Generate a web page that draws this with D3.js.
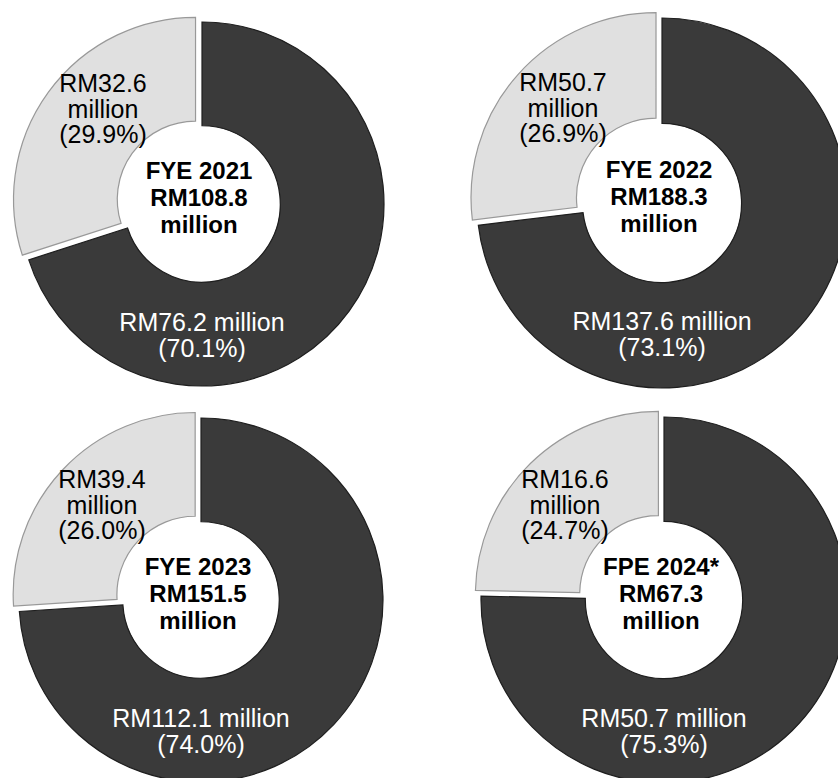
<!DOCTYPE html>
<html>
<head>
<meta charset="utf-8">
<script src="https://cdn.jsdelivr.net/npm/d3@7"></script>
<style>
  body { margin: 0; background: #fff; }
  svg { display: block; font-family: "Liberation Sans", Arial, sans-serif; }
</style>
</head>
<body>
<div class="chart"></div>
<script>
const w = 838;
const h = 778;

// data
const periods = ["FYE 2021", "FYE 2022", "FYE 2023", "FPE 2024*"];
const totals = [108.8, 188.3, 151.5, 67.3];
const darkValues = [76.2, 137.6, 112.1, 50.7];
const darkPct = [70.1, 73.1, 74.0, 75.3];
const lightValues = [32.6, 50.7, 39.4, 16.6];
const lightPct = [29.9, 26.9, 26.0, 24.7];

// where each donut sits
const cells = [
  { cx: 202, cy: 204, r: 182 },
  { cx: 662, cy: 203, r: 185 },
  { cx: 201, cy: 600, r: 182 },
  { cx: 664, cy: 600, r: 183 }
];

const darkFill = "#3a3a3a";
const lightFill = "#e0e0e0";
const explode = 8;

const svg = d3.select(".chart")
  .append("svg")
  .attr("width", w)
  .attr("height", h);

const pie = d3.pie().sort(null).value(d => d.value);

periods.forEach((p, i) => {
  const c = cells[i];
  const arc = d3.arc().innerRadius(c.r * 0.43).outerRadius(c.r);

  const g = svg.append("g")
    .attr("transform", `translate(${c.cx},${c.cy})`);

  const slices = pie([
    { key: "dark", value: darkValues[i] },
    { key: "light", value: lightValues[i] }
  ]);

  g.selectAll("path")
    .data(slices)
    .enter().append("path")
    .attr("d", arc)
    .attr("transform", d => {
      if (d.data.key !== "light") return null;
      const mid = (d.startAngle + d.endAngle) / 2;
      return `translate(${Math.sin(mid) * explode},${-Math.cos(mid) * explode})`;
    })
    .attr("fill", d => d.data.key === "dark" ? darkFill : lightFill)
    .attr("stroke", d => d.data.key === "dark" ? "#1e1e1e" : "#999")
    .attr("stroke-width", 1.2);

  // light slice label
  const lt = g.append("text")
    .attr("text-anchor", "middle")
    .attr("font-size", "25px")
    .attr("fill", "#000");
  [`RM${lightValues[i].toFixed(1)}`, "million", `(${lightPct[i].toFixed(1)}%)`].forEach((t, k) => {
    lt.append("tspan").attr("x", -99).attr("y", -112 + k * 25.5).text(t);
  });

  // dark slice label
  const dt = g.append("text")
    .attr("text-anchor", "middle")
    .attr("font-size", "25px")
    .attr("fill", "#fff");
  [`RM${darkValues[i].toFixed(1)} million`, `(${darkPct[i].toFixed(1)}%)`].forEach((t, k) => {
    dt.append("tspan").attr("x", 0).attr("y", 127 + k * 26).text(t);
  });

  // centre label
  const ct = g.append("text")
    .attr("text-anchor", "middle")
    .attr("font-size", "24px")
    .attr("font-weight", "bold")
    .attr("fill", "#000");
  [p, `RM${totals[i].toFixed(1)}`, "million"].forEach((t, k) => {
    ct.append("tspan").attr("x", -3).attr("y", -25 + k * 27).text(t);
  });
});
</script>
</body>
</html>
